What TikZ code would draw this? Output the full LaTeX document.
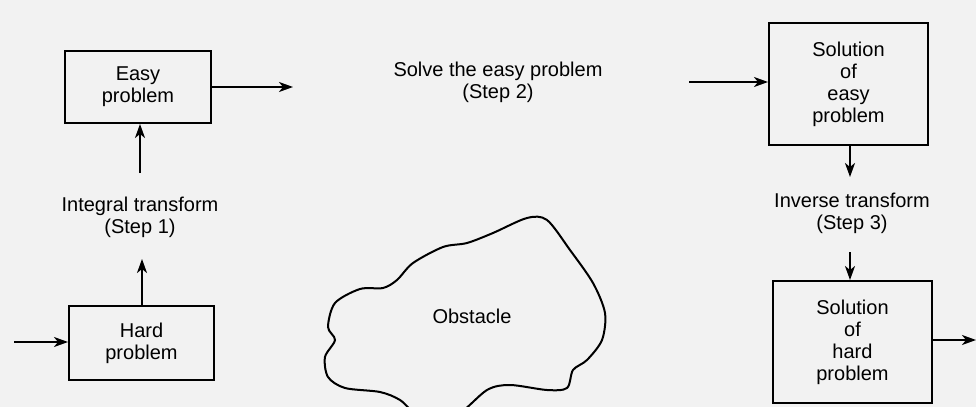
\documentclass[tikz,border=0pt]{standalone}
\usepackage{fontspec}
\setmainfont{Liberation Sans}
\usetikzlibrary{arrows.meta}

\begin{document}
\begin{tikzpicture}[x=0.5pt,y=-0.5pt,font=\fontsize{10}{11}\selectfont,
    box/.style={draw,line width=1pt,align=center,inner sep=0pt},
    arr/.style={line width=1pt,-{Stealth[length=7pt,width=5pt,inset=2pt]}}]
  \fill[black!5] (0,0) rectangle (976,407);
  \useasboundingbox (0,0) rectangle (976,407);
  \clip (0,0) rectangle (976,407);

  \node[box,minimum width=73pt,minimum height=36pt] (easy) at (138,87) {Easy\\problem};
  \node[box,minimum width=72.5pt,minimum height=37pt] (hard) at (141.5,343) {Hard\\problem};
  \node[box,minimum width=79.5pt,minimum height=61pt] (soleasy) at (848.5,84) {Solution\\of\\easy\\problem};
  \node[box,minimum width=79.5pt,minimum height=61pt] (solhard) at (852.5,342) {Solution\\of\\hard\\problem};

  \node[align=center] (step1) at (140,217) {Integral transform\\(Step 1)};
  \node[align=center] (step2) at (498,82) {Solve the easy problem\\(Step 2)};
  \node[align=center] (step3) at (852,213) {Inverse transform\\(Step 3)};
  \node (obstacle) at (472,316) {Obstacle};

  \coordinate (in) at (14,342);
  \coordinate (up1) at (142,259);
  \coordinate (up2) at (140,173);
  \coordinate (out1) at (293,87);
  \coordinate (in2) at (689,82);
  \coordinate (dn1) at (850,177);
  \coordinate (dn2) at (850,252);
  \coordinate (out2) at (976,340);

  \draw[arr] (in) -- (in -| hard.west);
  \draw[arr] (hard.north -| up1) -- (up1);
  \draw[arr] (up2) -- (easy.south -| up2);
  \draw[arr] (easy.east |- out1) -- (out1);
  \draw[arr] (in2) -- (in2 -| soleasy.west);
  \draw[arr] (soleasy.south -| dn1) -- (dn1);
  \draw[arr] (dn2) -- (solhard.north -| dn2);
  \draw[arr] (solhard.east |- out2) -- (out2);

  \draw[line width=1pt] plot[smooth cycle] coordinates {(383,288) (360,289) (335,303)
    (328,327) (335,340) (325,357) (328,377) (345,388) (380,392) (400,400) (420,416)
    (455,416) (487,390) (510,385) (547,390) (567,388) (573,370) (587,360) (602,340)
    (605,313) (593,283) (570,250) (547,220) (527,218) (493,233) (467,243) (443,247)
    (413,263) (397,280)};
\end{tikzpicture}
\end{document}
